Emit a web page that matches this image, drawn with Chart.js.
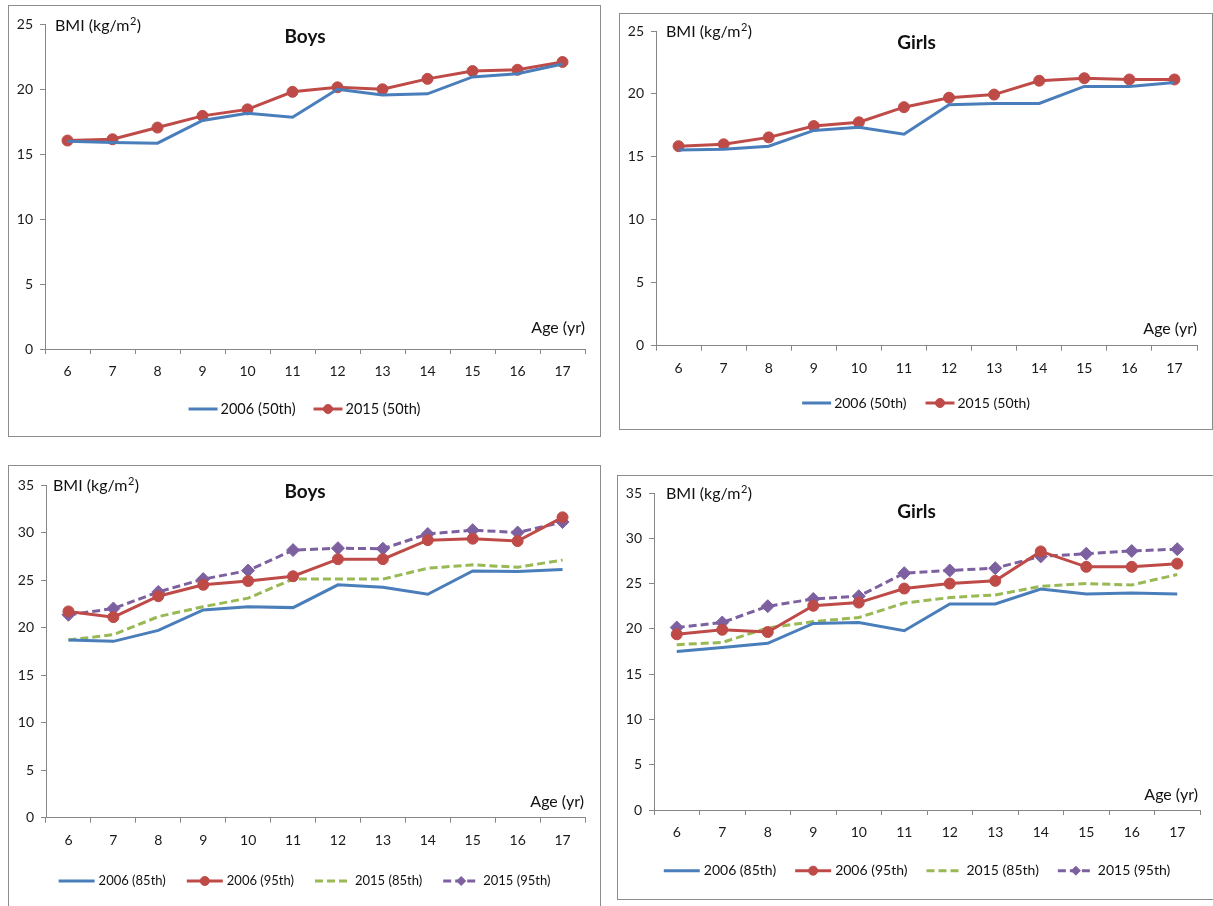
<!DOCTYPE html>
<html>
<head>
<meta charset="utf-8">
<script src="https://cdn.jsdelivr.net/npm/chart.js@4.4.1/dist/chart.umd.min.js"></script>
<style>
  body { margin: 0; background: #fff; width: 1213px; height: 906px; overflow: hidden; position: relative; }
  .panel { position: absolute; border: 1px solid #8c8c8c; box-sizing: border-box; background: #fff; }
  .panel canvas { position: absolute; left: 0; top: 0; }
</style>
</head>
<body>
<div class="panel" id="p1"><canvas id="c1"></canvas></div>
<div class="panel" id="p2"><canvas id="c2"></canvas></div>
<div class="panel" id="p3"><canvas id="c3"></canvas></div>
<div class="panel" id="p4"><canvas id="c4"></canvas></div>
<script>
// Age categories (x axis)
const ages = ["6", "7", "8", "9", "10", "11", "12", "13", "14", "15", "16", "17"];

// y axis ticks
const yTicksTop = [0, 5, 10, 15, 20, 25];
const yTicksBottom = [0, 5, 10, 15, 20, 25, 30, 35];

// 50th percentile
const boys2006p50 = [16.0, 15.9, 15.85, 17.6, 18.15, 17.85, 20.0, 19.55, 19.65, 20.95, 21.2, 21.95];
const boys2015p50 = [16.05, 16.15, 17.05, 17.95, 18.45, 19.8, 20.15, 20.0, 20.8, 21.4, 21.5, 22.1];
const girls2006p50 = [15.55, 15.6, 15.85, 17.1, 17.35, 16.8, 19.15, 19.25, 19.25, 20.6, 20.6, 20.9];
const girls2015p50 = [15.85, 16.0, 16.55, 17.45, 17.75, 18.95, 19.7, 19.95, 21.05, 21.25, 21.15, 21.15];

// 85th / 95th percentile
const boys2006p85 = [18.7, 18.55, 19.7, 21.85, 22.2, 22.1, 24.5, 24.25, 23.5, 25.95, 25.9, 26.1];
const boys2006p95 = [21.7, 21.1, 23.3, 24.5, 24.9, 25.4, 27.2, 27.2, 29.2, 29.35, 29.1, 31.6];
const boys2015p85 = [18.7, 19.25, 21.15, 22.2, 23.1, 25.1, 25.1, 25.1, 26.25, 26.6, 26.35, 27.1];
const boys2015p95 = [21.35, 22.0, 23.75, 25.1, 26.0, 28.15, 28.35, 28.3, 29.85, 30.25, 30.0, 31.1];
const girls2006p85 = [17.5, 17.95, 18.4, 20.6, 20.7, 19.8, 22.75, 22.75, 24.4, 23.85, 23.95, 23.85];
const girls2006p95 = [19.4, 19.9, 19.65, 22.55, 22.9, 24.45, 25.0, 25.3, 28.55, 26.85, 26.85, 27.2];
const girls2015p85 = [18.25, 18.5, 20.1, 20.8, 21.25, 22.85, 23.45, 23.75, 24.7, 25.0, 24.85, 26.0];
const girls2015p95 = [20.15, 20.7, 22.5, 23.3, 23.6, 26.15, 26.45, 26.7, 28.0, 28.3, 28.6, 28.8];

const FONT = "Lato, 'DejaVu Sans Condensed', sans-serif";
Chart.defaults.font.family = FONT;
Chart.defaults.color = "#1a1a1a";

// line styles (Excel 2007 palette)
const blue = { borderColor: "#4a7ebb", backgroundColor: "#4a7ebb", pointRadius: 0 };
const red = { borderColor: "#be4b48", backgroundColor: "#be4b48", pointStyle: "circle", pointRadius: 5.5 };
const green = { borderColor: "#98b954", backgroundColor: "#98b954", borderDash: [8, 4], pointRadius: 0 };
const purple = { borderColor: "#7d60a0", backgroundColor: "#7d60a0", borderDash: [8, 4], pointStyle: "rectRot", pointRadius: 6.5 };

const panels = [
    {
        canvas: "c1", div: "p1", box: [8, 5, 593, 432], area: [45, 24.3, 585, 349],
        yTicks: yTicksTop, title: "Boys", titlePos: [305, 37], bmiPos: [55, 26], agePos: [585, 328],
        legend: { y: 409, font: 14.5, lineLen: 29, textGap: 3, itemGap: 18, markerR: 4.5 },
        series: [["2006 (50th)", boys2006p50, blue], ["2015 (50th)", boys2015p50, red]]
    },
    {
        canvas: "c2", div: "p2", box: [619, 13, 594, 417], area: [656, 31, 1197, 345.7],
        yTicks: yTicksTop, title: "Girls", titlePos: [916.5, 43], bmiPos: [666, 32], agePos: [1197, 329],
        legend: { y: 403, font: 14, lineLen: 29, textGap: 3, itemGap: 19, markerR: 4.5 },
        series: [["2006 (50th)", girls2006p50, blue], ["2015 (50th)", girls2015p50, red]]
    },
    {
        canvas: "c3", div: "p3", box: [8, 465, 593, 445], area: [46, 485, 585, 817.7],
        yTicks: yTicksBottom, title: "Boys", titlePos: [305, 492], bmiPos: [53, 486], agePos: [584, 801.7],
        legend: { y: 881, font: 13, lineLen: 36, textGap: 4, itemGap: 21, markerR: 4.5 },
        series: [["2006 (85th)", boys2006p85, blue], ["2006 (95th)", boys2006p95, red],
                 ["2015 (85th)", boys2015p85, green], ["2015 (95th)", boys2015p95, purple]]
    },
    {
        canvas: "c4", div: "p4", box: [617, 475, 600, 425], area: [654, 493, 1200, 810],
        yTicks: yTicksBottom, title: "Girls", titlePos: [916.5, 512], bmiPos: [666, 494], agePos: [1198, 795],
        legend: { y: 870.7, font: 14, lineLen: 36, textGap: 4, itemGap: 19, markerR: 4.5 },
        series: [["2006 (85th)", girls2006p85, blue], ["2006 (95th)", girls2006p95, red],
                 ["2015 (85th)", girls2015p85, green], ["2015 (95th)", girls2015p95, purple]]
    }
];

// draws title, axis captions and an Excel-like legend (line + marker)
const panelText = {
    id: "panelText",
    afterDraw(chart, args, o) {
        const ctx = chart.ctx;
        ctx.save();
        ctx.fillStyle = "#111";
        ctx.textBaseline = "middle";

        ctx.font = "bold 19px " + FONT;
        ctx.textAlign = "center";
        ctx.fillText(o.title, o.titlePos[0], o.titlePos[1]);

        // BMI (kg/m2) with superscript
        ctx.textAlign = "left";
        let x = o.bmiPos[0];
        const y = o.bmiPos[1];
        ctx.font = "16px " + FONT;
        ctx.fillText("BMI (kg/m", x, y);
        x += ctx.measureText("BMI (kg/m").width;
        ctx.font = "11px " + FONT;
        ctx.fillText("2", x + 0.5, y - 5);
        x += ctx.measureText("2").width + 1;
        ctx.font = "16px " + FONT;
        ctx.fillText(")", x, y);

        ctx.textAlign = "right";
        ctx.fillText("Age (yr)", o.agePos[0], o.agePos[1]);

        // legend
        const lg = o.legend;
        ctx.font = lg.font + "px " + FONT;
        const items = chart.data.datasets.map(ds => ({ ds, w: ctx.measureText(ds.label).width }));
        const total = items.reduce((s, it) => s + lg.lineLen + lg.textGap + it.w, 0) + lg.itemGap * (items.length - 1);
        let lx = chart.width / 2 - total / 2;
        items.forEach(it => {
            const ds = it.ds;
            ctx.strokeStyle = ds.borderColor;
            ctx.lineWidth = 3;
            ctx.setLineDash(ds.borderDash || []);
            ctx.beginPath();
            ctx.moveTo(lx, lg.y);
            ctx.lineTo(lx + lg.lineLen, lg.y);
            ctx.stroke();
            ctx.setLineDash([]);
            if (ds.pointRadius > 0) {
                ctx.fillStyle = ds.borderColor;
                ctx.lineWidth = 1;
                Chart.helpers.drawPoint(ctx, { pointStyle: ds.pointStyle, radius: lg.markerR, borderWidth: 1, rotation: 0 },
                    lx + lg.lineLen / 2, lg.y);
            }
            lx += lg.lineLen + lg.textGap;
            ctx.fillStyle = "#111";
            ctx.textAlign = "left";
            ctx.fillText(ds.label, lx, lg.y);
            lx += it.w + lg.itemGap;
        });
        ctx.restore();
    }
};

const YW = 30, XH = 40;

panels.forEach(p => {
    const [bx, by, bw, bh] = p.box;
    const div = document.getElementById(p.div);
    div.style.left = bx + "px";
    div.style.top = by + "px";
    div.style.width = bw + "px";
    div.style.height = bh + "px";

    const ox = bx + 1, oy = by + 1, cw = bw - 2, ch = bh - 2;
    const canvas = document.getElementById(p.canvas);
    canvas.width = cw;
    canvas.height = ch;

    const [al, at, ar, ab] = p.area;
    const toLocal = pt => [pt[0] - ox, pt[1] - oy];

    new Chart(canvas.getContext("2d"), {
        type: "line",
        data: {
            labels: ages,
            datasets: p.series.map(([label, values, style]) => Object.assign({
                label: label,
                data: values,
                borderWidth: 3,
                pointBorderWidth: 1,
                tension: 0,
                fill: false
            }, style))
        },
        options: {
            responsive: false,
            animation: false,
            layout: {
                padding: { left: al - ox - YW, top: at - oy, right: ox + cw - ar, bottom: oy + ch - ab - XH }
            },
            plugins: {
                legend: { display: false },
                tooltip: { enabled: false },
                panelText: {
                    title: p.title,
                    titlePos: toLocal(p.titlePos),
                    bmiPos: toLocal(p.bmiPos),
                    agePos: toLocal(p.agePos),
                    legend: Object.assign({}, p.legend, { y: p.legend.y - oy })
                }
            },
            scales: {
                x: {
                    offset: true,
                    afterFit: s => { s.height = XH; },
                    grid: { offset: true, drawOnChartArea: false, tickLength: 5, color: "#868686" },
                    border: { color: "#868686", width: 1 },
                    ticks: { font: { size: 14 }, padding: 9, maxRotation: 0 }
                },
                y: {
                    min: p.yTicks[0],
                    max: p.yTicks[p.yTicks.length - 1],
                    afterFit: s => { s.width = YW; },
                    afterBuildTicks: s => { s.ticks = p.yTicks.map(v => ({ value: v })); },
                    grid: { drawOnChartArea: false, tickLength: 5, color: "#868686" },
                    border: { color: "#868686", width: 1 },
                    ticks: { font: { size: 14 }, padding: 7 }
                }
            }
        },
        plugins: [panelText]
    });
});
</script>
</body>
</html>
